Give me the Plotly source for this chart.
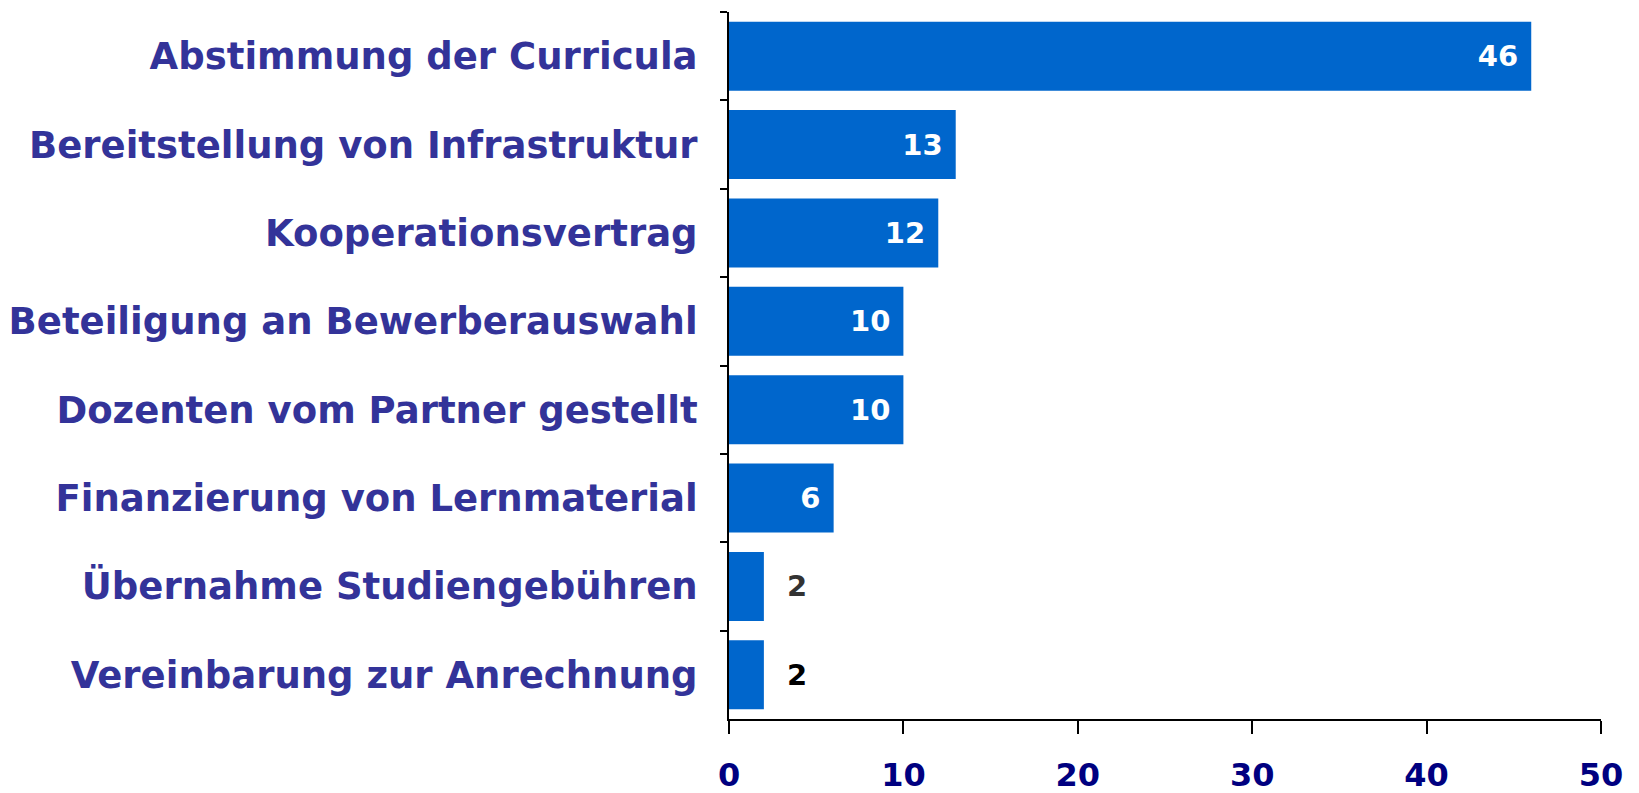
import plotly.graph_objects as go

categories = [
    "Abstimmung der Curricula",
    "Bereitstellung von Infrastruktur",
    "Kooperationsvertrag",
    "Beteiligung an Bewerberauswahl",
    "Dozenten vom Partner gestellt",
    "Finanzierung von Lernmaterial",
    "Übernahme Studiengebühren",
    "Vereinbarung zur Anrechnung",
]
values = [46, 13, 12, 10, 10, 6, 2, 2]
label_colors = ["white", "white", "white", "white", "white", "white", "#333333", "#000000"]
text_positions = ["inside", "inside", "inside", "inside", "inside", "inside", "outside", "outside"]
x_ticks = [0, 10, 20, 30, 40, 50]

NB = "\u00a0"
labels = [
    (str(v) + NB) if pos == "inside" else (NB + NB + str(v))
    for v, pos in zip(values, text_positions)
]

fig = go.Figure(go.Bar(
    y=categories,
    x=values,
    orientation="h",
    marker=dict(color="#0066CC", line=dict(width=0)),
    text=labels,
    textposition=text_positions,
    insidetextanchor="end",
    textfont=dict(family="DejaVu Sans", size=29, color=label_colors, weight="bold"),
    constraintext="none",
    cliponaxis=False,
))

fig.update_layout(
    width=1639,
    height=793,
    margin=dict(l=729, r=38, t=12, b=74),
    plot_bgcolor="white",
    paper_bgcolor="white",
    bargap=0.22,
    showlegend=False,
    xaxis=dict(
        range=[0, 50],
        tickvals=x_ticks,
        showgrid=False,
        zeroline=False,
        showline=True,
        linecolor="black",
        linewidth=2,
        ticks="outside",
        ticklen=13,
        tickwidth=2,
        tickcolor="black",
        tickfont=dict(family="DejaVu Sans", size=32, color="#000080", weight="bold"),
        ticklabelstandoff=14,
        automargin=False,
    ),
    yaxis=dict(
        autorange="reversed",
        showgrid=False,
        zeroline=False,
        showline=True,
        linecolor="black",
        linewidth=2,
        ticks="outside",
        tickson="boundaries",
        ticklen=7,
        tickwidth=2,
        tickcolor="black",
        tickfont=dict(family="DejaVu Sans", size=37, color="#333399", weight="bold"),
        ticklabelstandoff=22,
        automargin=False,
    ),
)

fig.write_html("out.html")
